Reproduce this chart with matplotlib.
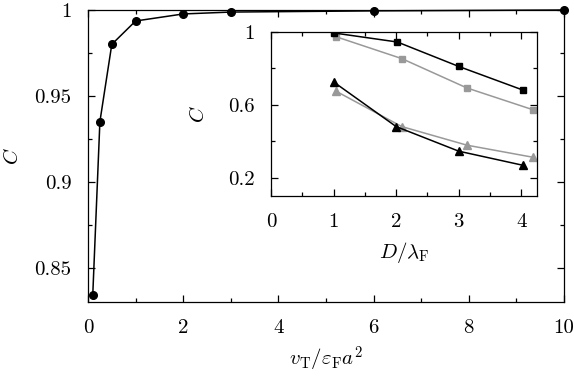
import matplotlib
matplotlib.use('Agg')
import matplotlib.pyplot as plt
from matplotlib.ticker import MultipleLocator

plt.rcParams['font.family'] = 'serif'
plt.rcParams['font.serif'] = ['cmr10']
plt.rcParams['mathtext.fontset'] = 'cm'
plt.rcParams['axes.formatter.use_mathtext'] = True

# main panel data
vt = [0.1, 0.25, 0.5, 1, 2, 3, 6, 10]
C_main = [0.834, 0.935, 0.980, 0.9936, 0.9977, 0.9988, 0.9995, 1.0]
main_xticks = [0, 2, 4, 6, 8, 10]
main_yticks = [0.85, 0.9, 0.95, 1.0]
main_ylabels = ['0.85', '0.9', '0.95', '1']

# inset data
D_sq_black = [1.0, 2.02, 3.0, 4.02]
C_sq_black = [0.995, 0.945, 0.811, 0.682]
D_sq_gray = [1.04, 2.09, 3.13, 4.18]
C_sq_gray = [0.974, 0.854, 0.693, 0.574]
D_tri_black = [1.0, 2.0, 3.0, 4.02]
C_tri_black = [0.726, 0.481, 0.346, 0.269]
D_tri_gray = [1.04, 2.09, 3.13, 4.18]
C_tri_gray = [0.675, 0.481, 0.379, 0.313]
ins_xticks = [0, 1, 2, 3, 4]
ins_yticks = [0.2, 0.6, 1.0]
ins_ylabels = ['0.2', '0.6', '1']

gray = '#999999'
fs = 15

fig = plt.figure(figsize=(5.74, 3.76), dpi=100)
ax = fig.add_axes([0.1533, 0.1968, 0.8293, 0.7766])
ax.plot(vt, C_main, '-o', color='black', lw=1.1, ms=5.5, clip_on=False, zorder=3)
ax.set_xlim(0, 10)
ax.set_ylim(0.83, 1.0)
ax.set_xticks(main_xticks)
ax.set_xticklabels([str(t) for t in main_xticks])
ax.xaxis.set_minor_locator(MultipleLocator(1))
ax.set_yticks(main_yticks)
ax.set_yticklabels(main_ylabels)
ax.yaxis.set_minor_locator(MultipleLocator(0.025))
ax.tick_params(which='both', direction='in', top=True, right=True, labelsize=fs, width=0.9)
ax.tick_params(which='major', length=5)
ax.tick_params(which='minor', length=3)
ax.tick_params(axis='x', pad=12)
ax.tick_params(axis='y', pad=12)
ax.set_xlabel(r'$v_{\mathrm{T}}/\varepsilon_{\mathrm{F}}a^2$', fontsize=fs)
ax.set_ylabel(r'$C$', fontsize=fs)
ax.xaxis.set_label_coords(0.5, -0.147)
ax.yaxis.set_label_coords(-0.139, 0.5)
for s in ax.spines.values():
    s.set_linewidth(0.9)

ins = fig.add_axes([0.4721, 0.4787, 0.4634, 0.4362])
ins.plot(D_sq_gray, C_sq_gray, '-s', color=gray, lw=1.1, ms=5)
ins.plot(D_tri_gray, C_tri_gray, '-^', color=gray, lw=1.1, ms=6)
ins.plot(D_sq_black, C_sq_black, '-s', color='black', lw=1.1, ms=5)
ins.plot(D_tri_black, C_tri_black, '-^', color='black', lw=1.1, ms=6)
ins.set_xlim(0, 4.25)
ins.set_ylim(0.1, 1.0)
ins.set_xticks(ins_xticks)
ins.set_xticklabels([str(t) for t in ins_xticks])
ins.xaxis.set_minor_locator(MultipleLocator(0.5))
ins.set_yticks(ins_yticks)
ins.set_yticklabels(ins_ylabels)
ins.yaxis.set_minor_locator(MultipleLocator(0.2))
ins.tick_params(which='both', direction='in', top=True, right=True, labelsize=fs, width=0.9)
ins.tick_params(which='major', length=5)
ins.tick_params(which='minor', length=3)
ins.tick_params(axis='x', pad=12)
ins.tick_params(axis='y', pad=12)
ins.set_xlabel(r'$D/\lambda_{\mathrm{F}}$', fontsize=fs)
ins.set_ylabel(r'$C$', fontsize=fs)
ins.xaxis.set_label_coords(0.5, -0.267)
ins.yaxis.set_label_coords(-0.237, 0.5)
for s in ins.spines.values():
    s.set_linewidth(0.9)

fig.savefig('out.png', dpi=100)
